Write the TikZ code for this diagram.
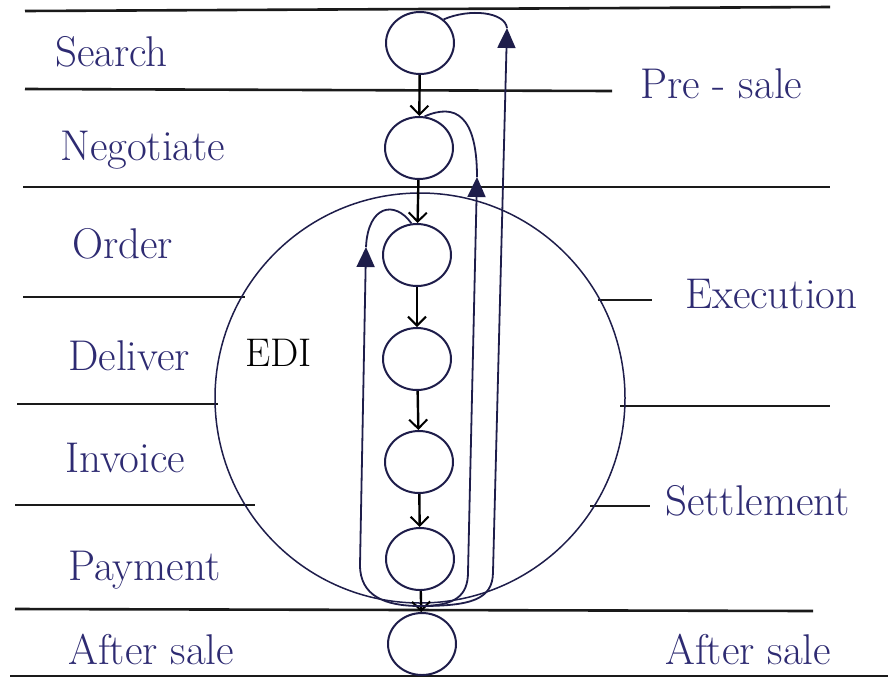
\documentclass[tikz,border=0pt]{standalone}
\usepackage{fontspec}
\usetikzlibrary{arrows.meta,shapes.geometric}
\definecolor{ink}{HTML}{2E2B72}
\definecolor{pen}{HTML}{1E1D4A}
\definecolor{rulec}{HTML}{1A1A1A}
\begin{document}
\begin{tikzpicture}[x=1pt,y=-1pt,
  sepline/.style={draw=rulec,line width=2.6pt},
  stage/.style={draw=pen,ellipse,line width=2pt,minimum width=68pt,minimum height=62pt,inner sep=0pt},
  lab/.style={text=ink,anchor=base west,font=\fontsize{43}{45}\selectfont,inner sep=0pt},
  chain/.style={draw=black,line width=2.4pt,-{Straight Barb[length=9pt,width=18pt,line width=2pt]}},
  back/.style={draw=pen,line width=1.8pt},
  backtip/.style={back,-{Triangle[length=20pt,width=18pt]}}]
\useasboundingbox[fill=white] (0,0) rectangle (888,681);

% ruled separator lines
\draw[sepline] (25,11) -- (830,7);
\draw[sepline] (25,89) -- (612,91);
\draw[sepline] (23,187) -- (830,187);
\draw[sepline] (23,297) -- (245,297);
\draw[sepline] (598,300) -- (652,300);
\draw[sepline] (17,404) -- (218,404);
\draw[sepline] (620,406) -- (830,406);
\draw[sepline] (15,505) -- (255,505);
\draw[sepline] (590,506) -- (650,506);
\draw[sepline] (15,609) -- (813,611);
\draw[sepline] (10,676) -- (888,676);

% big EDI circle
\node[draw=pen,line width=1.5pt,circle,minimum size=410pt,inner sep=0pt] (edicircle) at (420,398) {};

% labels
\node[lab] (search) at (55,66) {Search};
\node[lab] (negotiate) at (60,160) {Negotiate};
\node[lab] (order) at (72,258) {Order};
\node[lab] (deliver) at (68,370) {Deliver};
\node[lab] (invoice) at (65,472) {Invoice};
\node[lab] (payment) at (68,580) {Payment};
\node[lab] (aftersaleL) at (68,664) {After sale};
\node[lab,text=black,font=\fontsize{40}{42}\selectfont] (edi) at (245,366) {EDI};
\node[lab] (presale) at (640,98) {Pre - sale};
\node[lab] (execution) at (685,308) {Execution};
\node[lab] (settlement) at (665,515) {Settlement};
\node[lab] (aftersaleR) at (665,664) {After sale};

% stage circles
\node[stage] (s1) at (420,43) {};
\node[stage] (s2) at (419,148) {};
\node[stage] (s3) at (417,255) {};
\node[stage] (s4) at (417,359) {};
\node[stage] (s5) at (419,462) {};
\node[stage] (s6) at (420,559) {};
\node[stage] (s7) at (422,644) {};

% forward chain
\draw[chain] (s1) -- (s2);
\draw[chain] (s2) -- (s3);
\draw[chain] (s3) -- (s4);
\draw[chain] (s4) -- (s5);
\draw[chain] (s5) -- (s6);
\draw[chain] (s6) -- (s7);

% feedback loops
\coordinate (m) at (420,606);
\coordinate (tA) at (507,28);
\coordinate (tB) at (477,177);
\coordinate (tC) at (366,247);
\draw[backtip] (m) .. controls (470,606) and (493,600) .. (493,572) -- (tA);
\draw[back] (tA) .. controls (505,12) and (470,8) .. (s1.45);
\draw[backtip] (m) .. controls (455,606) and (468,596) .. (468,572) -- (tB);
\draw[back] (tB) .. controls (477,115) and (455,103) .. (s2.80);
\draw[backtip] (m) .. controls (385,606) and (360,596) .. (360,565) -- (tC);
\draw[back] (tC) .. controls (368,205) and (395,200) .. (s3.100);
\end{tikzpicture}
\end{document}
